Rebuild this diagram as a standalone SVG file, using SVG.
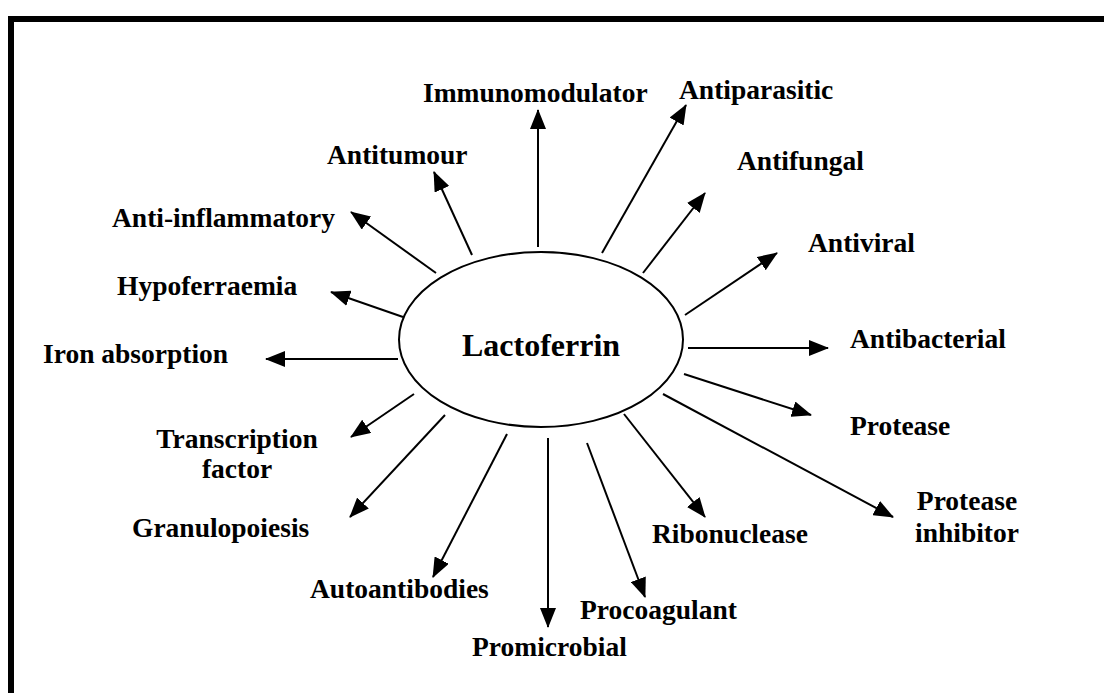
<svg xmlns="http://www.w3.org/2000/svg" width="1104" height="693" viewBox="0 0 1104 693">
<style>
text{font-family:"Liberation Serif","Times New Roman",serif;font-weight:bold;fill:#000;font-size:27.5px}
.c{text-anchor:middle}
.conn line{stroke:#000;stroke-width:2;marker-end:url(#ah)}
</style>
<defs>
<marker id="ah" markerUnits="userSpaceOnUse" markerWidth="20" markerHeight="16" refX="19" refY="8" orient="auto">
<path d="M0,0 L20,8 L0,16 Z" fill="#000"/>
</marker>
</defs>
<rect width="1104" height="693" fill="#fff"/>
<path d="M11,693 V19 H1104" fill="none" stroke="#000" stroke-width="6"/>
<g id="center">
<ellipse cx="541" cy="339.5" rx="142" ry="87.5" fill="none" stroke="#000" stroke-width="2"/>
<text x="541" y="356" class="c" style="font-size:32px">Lactoferrin</text>
</g>
<g class="conn" id="connectors">
<line x1="538" y1="247" x2="538" y2="110"/>
<line x1="602" y1="253" x2="686" y2="105"/>
<line x1="472" y1="255" x2="434" y2="172"/>
<line x1="436" y1="273" x2="351" y2="212"/>
<line x1="643" y1="273" x2="705" y2="193"/>
<line x1="685" y1="315" x2="777" y2="253"/>
<line x1="688" y1="348" x2="828" y2="348"/>
<line x1="684" y1="374" x2="811" y2="415"/>
<line x1="663" y1="394" x2="893" y2="517"/>
<line x1="624" y1="414" x2="705" y2="517"/>
<line x1="587" y1="443" x2="645" y2="597"/>
<line x1="548" y1="438" x2="548" y2="627"/>
<line x1="507" y1="434" x2="433" y2="577"/>
<line x1="445" y1="415" x2="350" y2="517"/>
<line x1="414" y1="394" x2="351" y2="437"/>
<line x1="403" y1="317" x2="331" y2="292"/>
<line x1="398" y1="359" x2="266" y2="359"/>
</g>
<g id="immunomodulator"><text x="423" y="102">Immunomodulator</text></g>
<g id="antiparasitic"><text x="679" y="99">Antiparasitic</text></g>
<g id="antitumour"><text x="327" y="164">Antitumour</text></g>
<g id="antifungal"><text x="737" y="170">Antifungal</text></g>
<g id="antiinflammatory"><text x="112" y="227">Anti-inflammatory</text></g>
<g id="antiviral"><text x="808" y="252">Antiviral</text></g>
<g id="hypoferraemia"><text x="117" y="295">Hypoferraemia</text></g>
<g id="ironabsorption"><text x="43" y="363">Iron absorption</text></g>
<g id="antibacterial"><text x="850" y="348">Antibacterial</text></g>
<g id="protease"><text x="850" y="435">Protease</text></g>
<g id="transcriptionfactor"><text x="237" y="448" class="c">Transcription</text><text x="237" y="478" class="c">factor</text></g>
<g id="granulopoiesis"><text x="132" y="537">Granulopoiesis</text></g>
<g id="autoantibodies"><text x="310" y="598">Autoantibodies</text></g>
<g id="promicrobial"><text x="472" y="656">Promicrobial</text></g>
<g id="procoagulant"><text x="580" y="619">Procoagulant</text></g>
<g id="ribonuclease"><text x="652" y="543">Ribonuclease</text></g>
<g id="proteaseinhibitor"><text x="967" y="510" class="c">Protease</text><text x="967" y="542" class="c">inhibitor</text></g>
</svg>
